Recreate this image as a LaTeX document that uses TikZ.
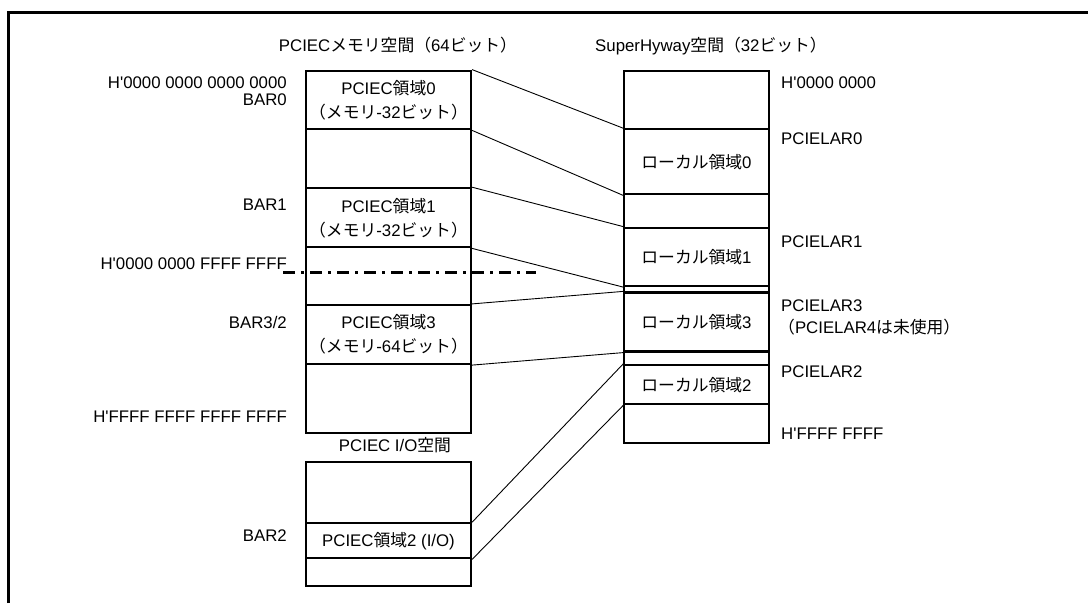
\documentclass[tikz,border=0pt]{standalone}
\usepackage{fontspec}
\setmainfont{Liberation Sans}
\newfontfamily\jpfont{Noto Sans CJK JP}
\newcommand{\jp}[1]{{\jpfont #1}}
\newcommand{\hx}{H\textquotesingle}

\begin{document}
\begin{tikzpicture}[x=1pt, y=-1pt,
      seg/.style={draw, line width=2.2pt, inner sep=0pt, align=center,
          font=\fontsize{16.8}{24}\selectfont},
      lseg/.style={seg, minimum width=165pt},
      rseg/.style={seg, minimum width=144.4pt},
      lab/.style={font=\fontsize{16.8}{20}\selectfont, inner sep=0pt},
      conn/.style={line width=0.9pt},
    ]
    \useasboundingbox (0,0) rectangle (1088,603);

    % ---- Frame (open at right and bottom) ----
    \draw[line width=3pt] (8,603) -- (8,12) -- (1088,12);

    % ---- PCIEC memory space (LEFT, x = 306..471) ----
    \node[lseg, minimum height=58.6pt] (P0) at (388.5, 100.0)
    {PCIEC\jp{領域}0\\\jp{（メモリ}-32\jp{ビット）}};
    \node[lseg, minimum height=59pt]   (P1) at (388.5, 217.8)
    {PCIEC\jp{領域}1\\\jp{（メモリ}-32\jp{ビット）}};
    \node[lseg, minimum height=59pt]   (P3) at (388.5, 334.5)
    {PCIEC\jp{領域}3\\\jp{（メモリ}-64\jp{ビット）}};
    % ---- PCIEC I/O space ----
    \node[lseg, minimum height=35pt]   (P2) at (388.5, 540.8)
    {PCIEC\jp{領域}2 (I/O)};
    % empty parts of both left columns
    \foreach \n/\cy/\h in {E0/158.8/59, E1/276.15/57.7, E2/398.65/69.3,
        E3/492.5/61.6, E4/572.15/27.7}{
        \node[lseg, minimum height=\h pt] (\n) at (388.5, \cy) {};
      }

    % ---- SuperHyway space (RIGHT, x = 624..769) ----
    \node[rseg, minimum height=65pt]   (L0) at (696.5, 161.8)  {\jp{ローカル領域}0};
    \node[rseg, minimum height=58.3pt] (L1) at (696.5, 256.85) {\jp{ローカル領域}1};
    \node[rseg, minimum height=59pt]   (L3) at (696.5, 322.0)  {\jp{ローカル領域}3};
    \node[rseg, minimum height=39.3pt] (L2) at (696.5, 384.65) {\jp{ローカル領域}2};
    \foreach \n/\cy/\h in {R0/100.15/58.3, R1/211/33.4, R2/289.25/6.5,
        R3/358.25/13.5, R4/423.8/39}{
        \node[rseg, minimum height=\h pt] (\n) at (696.5, \cy) {};
      }

    % ---- 32/64-bit boundary ----
    \draw[line width=2.6pt, dash pattern=on 12pt off 6pt on 3pt off 6pt]
    (283, 272.6) -- (536, 272.6);

    % ---- Titles ----
    \node[lab, anchor=base] (TL) at (398, 51)    {PCIEC\jp{メモリ空間（}64\jp{ビット）}};
    \node[lab, anchor=base] (TR) at (711, 51)    {SuperHyway\jp{空間（}32\jp{ビット）}};
    \node[lab, anchor=base] (TI) at (395, 451.7) {PCIEC I/O\jp{空間}};

    % ---- Address labels, left (right aligned at x = 287) ----
    \node[lab, anchor=base east] (A0)   at (287, 88)  {\hx0000 0000 0000 0000};
    \node[lab, anchor=base east] (B0)   at (287, 105) {BAR0};
    \node[lab, anchor=base east] (B1)   at (287, 210) {BAR1};
    \node[lab, anchor=base east] (A32)  at (287, 269) {\hx0000 0000 FFFF FFFF};
    \node[lab, anchor=base east] (B3)   at (287, 328) {BAR3/2};
    \node[lab, anchor=base east] (A64)  at (287, 422) {\hx FFFF FFFF FFFF FFFF};
    \node[lab, anchor=base east] (B2)   at (287, 541) {BAR2};

    % ---- Address labels, right (left aligned at x = 781) ----
    \node[lab, anchor=base west] (S0)   at (781, 88)    {\hx0000 0000};
    \node[lab, anchor=base west] (LA0)  at (781, 144)   {PCIELAR0};
    \node[lab, anchor=base west] (LA1)  at (781, 247)   {PCIELAR1};
    \node[lab, anchor=base west] (LA3)  at (781, 311)   {PCIELAR3};
    \node[lab, anchor=base west] (LA4)  at (778, 333.7) {\jp{（}PCIELAR4\jp{は未使用）}};
    \node[lab, anchor=base west] (LA2)  at (781, 377.7) {PCIELAR2};
    \node[lab, anchor=base west] (SF)   at (781, 439.3) {\hx FFFF FFFF};

    % ---- Connectors: PCIEC area -> local area ----
    \draw[conn] (P0.north east) -- (L0.north west);
    \draw[conn] (P0.south east) -- (L0.south west);
    \draw[conn] (P1.north east) -- (L1.north west);
    \draw[conn] (P1.south east) -- (L1.south west);
    \draw[conn] (P3.north east) -- (L3.north west);
    \draw[conn] (P3.south east) -- (L3.south west);
    \draw[conn] (P2.north east) -- (L2.north west);
    \draw[conn] (P2.south east) -- (L2.south west);

  \end{tikzpicture}
\end{document}
